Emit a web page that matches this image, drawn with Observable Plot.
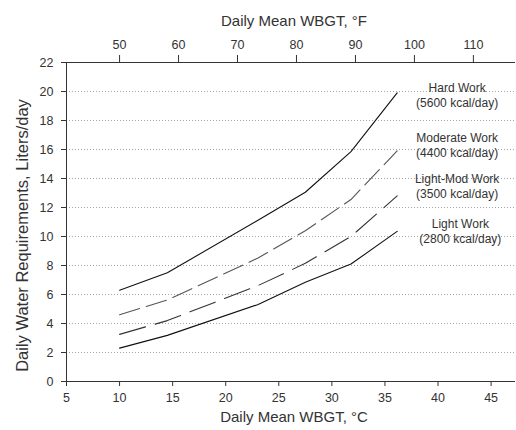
<!DOCTYPE html>
<html>
<head>
<meta charset="utf-8">
<script src="https://cdn.jsdelivr.net/npm/d3@7"></script>
<script src="https://cdn.jsdelivr.net/npm/@observablehq/plot@0.6"></script>
<style>
  html, body { margin: 0; padding: 0; background: #fff; }
</style>
</head>
<body>
<div id="chart"></div>
<script>
// ---- data ----
const tempsC = [10, 14.5, 23, 27.5, 31.8, 36.15];
const hardWork = [6.3, 7.5, 11.1, 13.05, 15.85, 19.9];
const moderateWork = [4.6, 5.62, 8.5, 10.4, 12.55, 15.9];
const lightModWork = [3.25, 4.2, 6.6, 8.15, 10.0, 12.8];
const lightWork = [2.3, 3.18, 5.3, 6.85, 8.1, 10.35];

const seriesNames = ["Hard Work", "Moderate Work", "Light-Mod Work", "Light Work"];
const seriesKcal = ["(5600 kcal/day)", "(4400 kcal/day)", "(3500 kcal/day)", "(2800 kcal/day)"];

const celsiusTicks = [5, 10, 15, 20, 25, 30, 35, 40, 45];
const fahrenheitTicks = [50, 60, 70, 80, 90, 100, 110];
const yTicks = [0, 2, 4, 6, 8, 10, 12, 14, 16, 18, 20, 22];
const gridValues = [2, 4, 6, 8, 10, 12, 14, 16, 18, 20];

// ---- build tables ----
const seriesValues = [hardWork, moderateWork, lightModWork, lightWork];
const table = [];
seriesValues.forEach((vals, s) => {
  vals.forEach((v, i) => table.push({series: seriesNames[s], t: tempsC[i], v}));
});
const styles = {
  "Hard Work": {stroke: "#111", dash: null},
  "Moderate Work": {stroke: "#555", dash: "21,7"},
  "Light-Mod Work": {stroke: "#333", dash: "27,10"},
  "Light Work": {stroke: "#111", dash: null}
};
// annotation anchor positions (data coords)
const annotX = [41.8, 41.8, 41.8, 42.1];
const annotY = [19.8, 16.3, 13.5, 10.4];
const annotations = seriesNames.map((n, i) => ({x: annotX[i], y: annotY[i], text: n + "\n" + seriesKcal[i]}));

const f2c = f => (f - 32) * 5 / 9;
const c2f = c => Math.round(c * 9 / 5 + 32);

const lineMarks = seriesNames.map(name => Plot.line(table.filter(d => d.series === name), {
  x: "t", y: "v",
  stroke: styles[name].stroke,
  strokeWidth: 1.1,
  strokeDasharray: styles[name].dash
}));

const chart = Plot.plot({
  width: 516,
  height: 430,
  marginLeft: 66,
  marginRight: 1,
  marginTop: 62,
  marginBottom: 49,
  x: {domain: [5, 47.3]},
  y: {domain: [0, 22]},
  style: {fontFamily: "'Liberation Sans', Arial, sans-serif", fontSize: "12px", color: "#333", background: "#fff"},
  marks: [
    Plot.ruleY(gridValues, {stroke: "#a5a5a5", strokeDasharray: "1,2", strokeWidth: 1}),
    Plot.axisY(yTicks, {anchor: "left", tickSize: 5, tickPadding: 8, label: null, fontSize: 12.5}),
    Plot.axisX(celsiusTicks, {anchor: "bottom", tickSize: 5, tickPadding: 7, label: null, fontSize: 12.5}),
    Plot.axisX(fahrenheitTicks.map(f2c), {anchor: "top", tickSize: 8, tickPadding: 6, label: null, fontSize: 12.5, tickFormat: c2f}),
    Plot.ruleY([0], {stroke: "#333"}),
    Plot.ruleY([22], {stroke: "#333"}),
    Plot.ruleX([5], {stroke: "#333"}),
    ...lineMarks,
    Plot.text(annotations, {x: "x", y: "y", text: "text", lineHeight: 1.25, fontSize: 12, fill: "#333", textAnchor: "middle"}),
    Plot.text(["Daily Mean WBGT, °F"], {frameAnchor: "top", dx: 3, dy: -47, fontSize: 15, fill: "#333"}),
    Plot.text(["Daily Mean WBGT, °C"], {frameAnchor: "bottom", dx: 3, dy: 40, fontSize: 15, fill: "#333"}),
    Plot.text(["Daily Water Requirements, Liters/day"], {frameAnchor: "left", textAnchor: "middle", rotate: -90, dx: -43.5, dy: 13.5, fontSize: 16.5, fill: "#333"})
  ]
});
document.getElementById("chart").appendChild(chart);
</script>
</body>
</html>
